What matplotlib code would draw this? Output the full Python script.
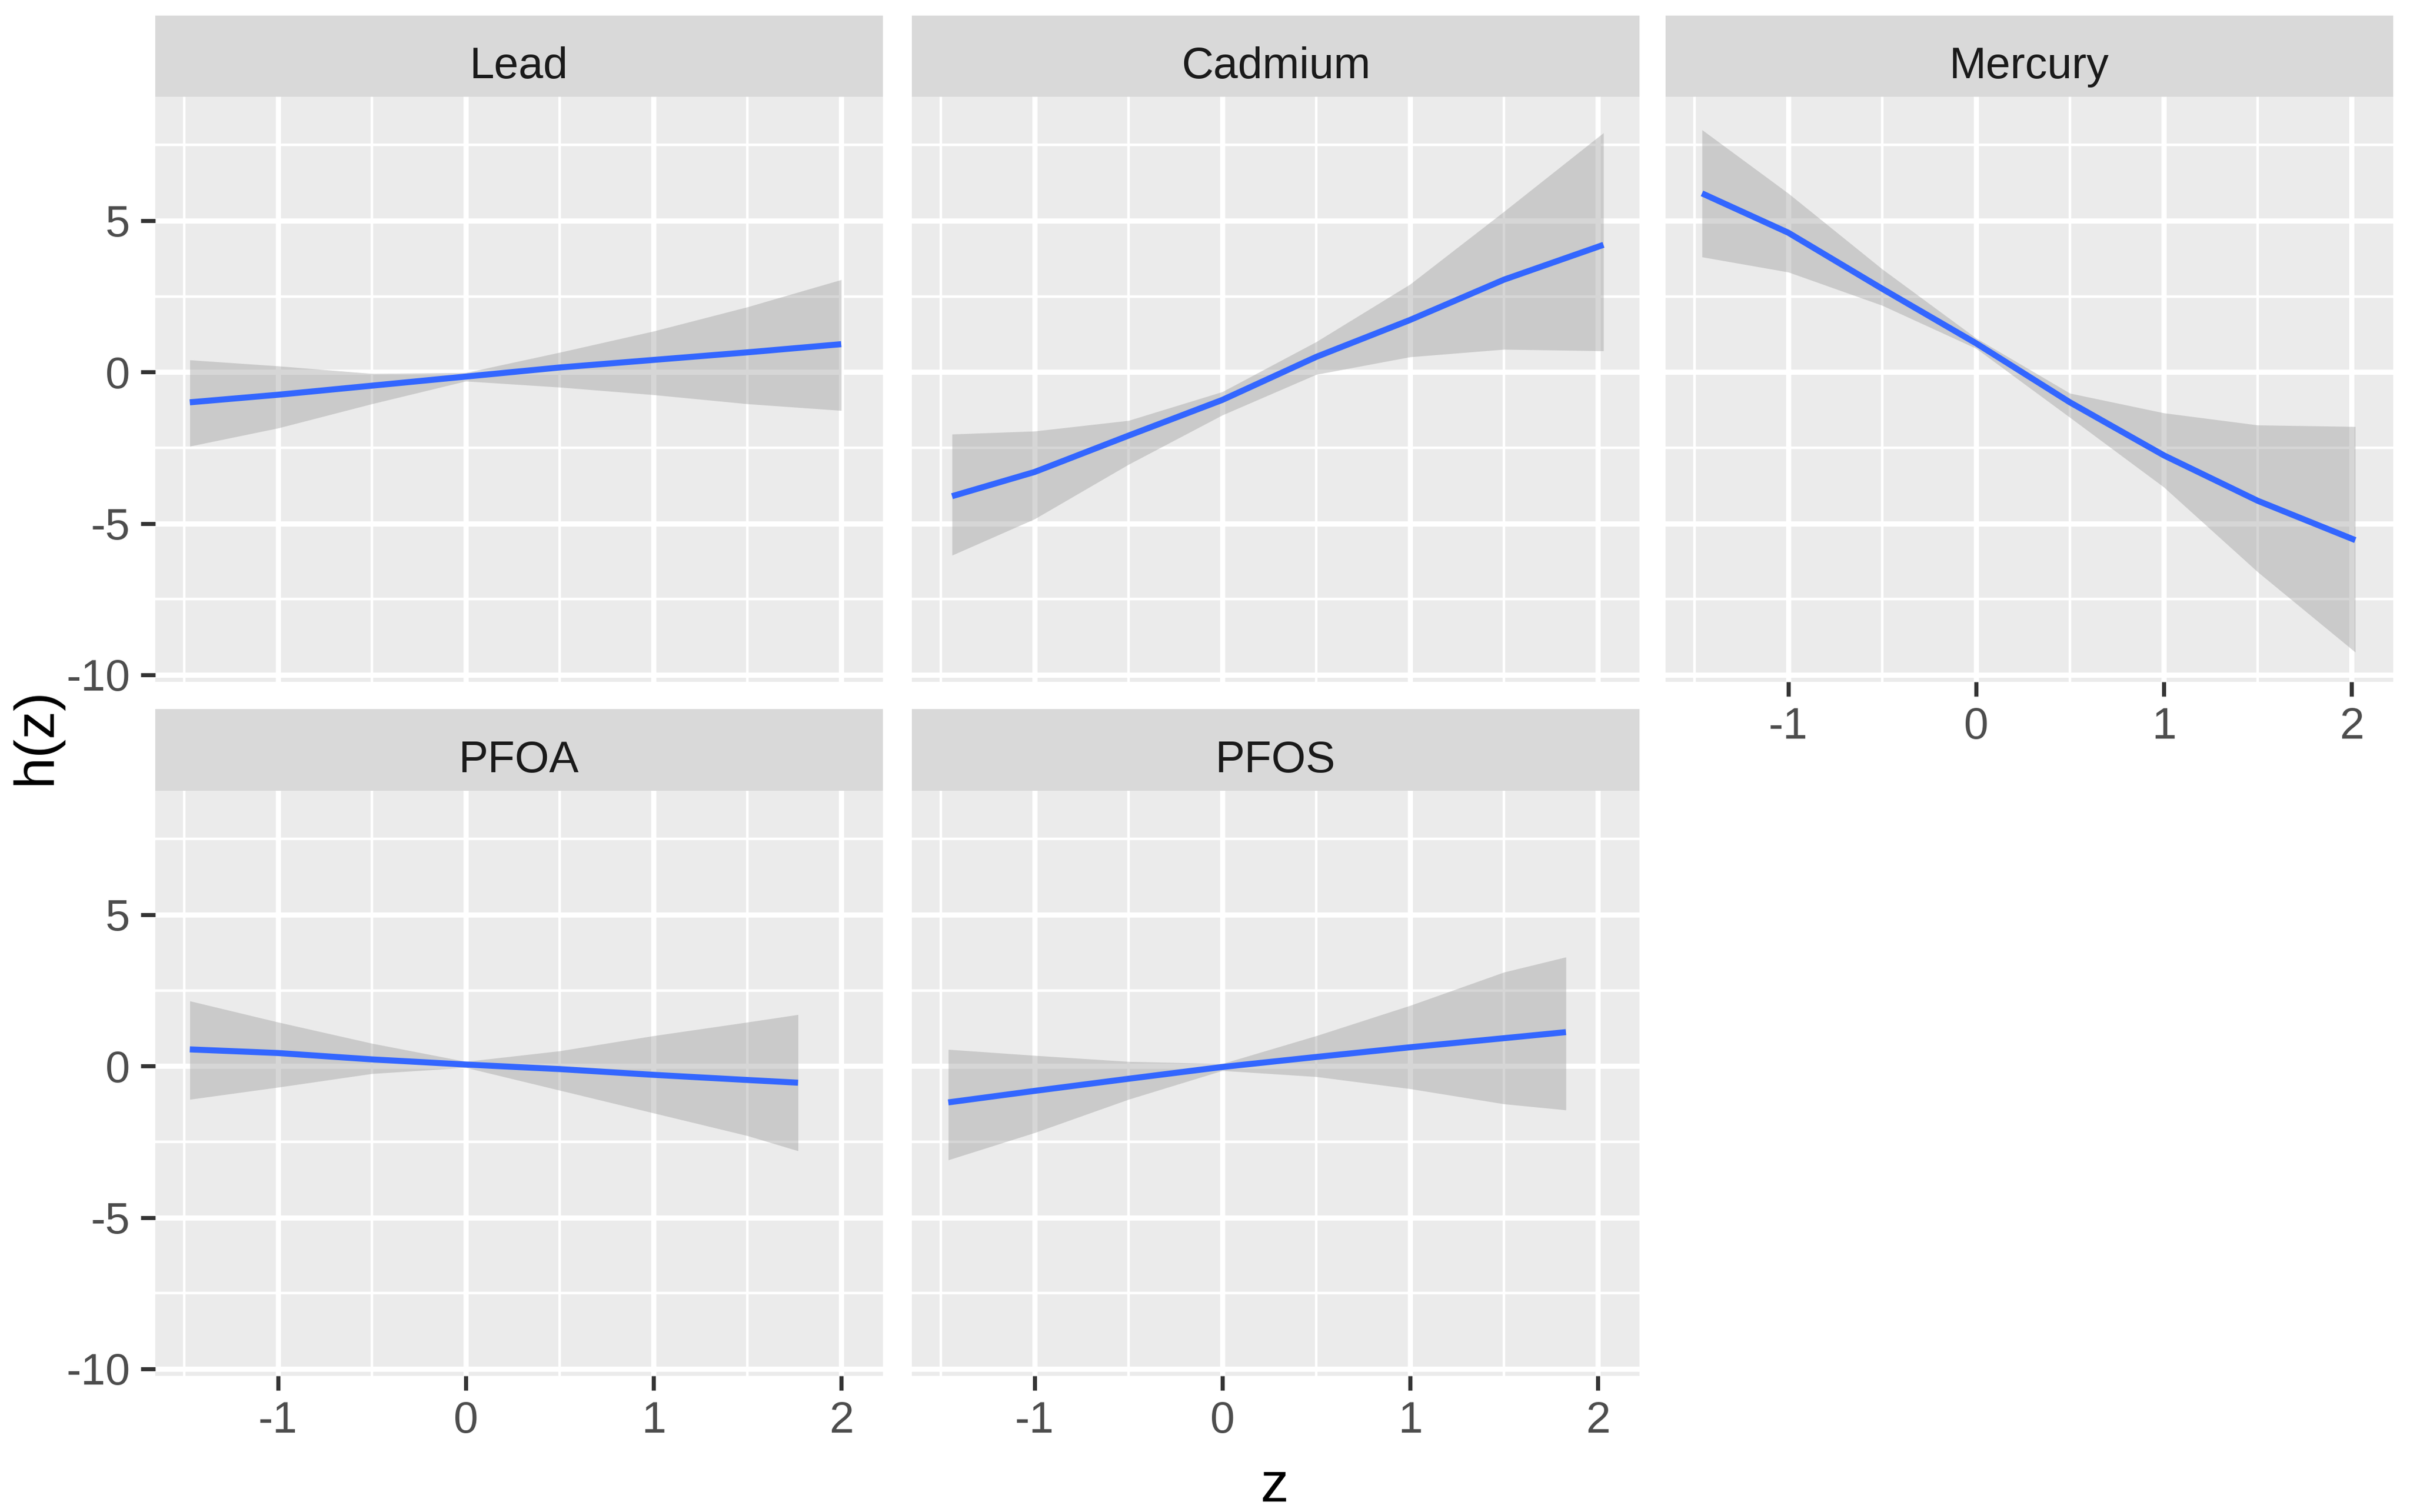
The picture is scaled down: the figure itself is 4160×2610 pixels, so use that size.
import matplotlib
matplotlib.use('Agg')
import matplotlib.pyplot as plt

plt.rcParams['font.family'] = ['Liberation Sans', 'DejaVu Sans']

# ---------------- data ----------------
panels = ['Lead', 'Cadmium', 'Mercury', 'PFOA', 'PFOS']

lead_z   = [-1.47, -1.0, -0.5, 0.0, 0.5, 1.0, 1.5, 2.0]
lead_est = [-1.0, -0.75, -0.45, -0.15, 0.15, 0.4, 0.65, 0.92]
lead_lo  = [-2.45, -1.85, -1.05, -0.3, -0.5, -0.75, -1.05, -1.27]
lead_hi  = [0.4, 0.2, -0.05, -0.02, 0.65, 1.35, 2.15, 3.05]

cad_z   = [-1.44, -1.0, -0.5, 0.0, 0.5, 1.0, 1.5, 2.03]
cad_est = [-4.1, -3.3, -2.1, -0.92, 0.5, 1.72, 3.05, 4.2]
cad_lo  = [-6.05, -4.85, -3.05, -1.42, -0.08, 0.5, 0.75, 0.7]
cad_hi  = [-2.05, -1.95, -1.6, -0.65, 1.0, 2.9, 5.3, 7.9]

mer_z   = [-1.46, -1.0, -0.5, 0.0, 0.5, 1.0, 1.5, 2.02]
mer_est = [5.9, 4.6, 2.75, 0.95, -1.0, -2.75, -4.25, -5.55]
mer_lo  = [3.8, 3.3, 2.2, 0.78, -1.5, -3.8, -6.6, -9.25]
mer_hi  = [8.0, 5.9, 3.4, 1.12, -0.7, -1.35, -1.75, -1.8]

pfoa_z   = [-1.47, -1.0, -0.5, 0.0, 0.5, 1.0, 1.5, 1.77]
pfoa_est = [0.55, 0.43, 0.22, 0.05, -0.1, -0.29, -0.46, -0.55]
pfoa_lo  = [-1.1, -0.7, -0.25, -0.05, -0.8, -1.55, -2.3, -2.8]
pfoa_hi  = [2.15, 1.45, 0.75, 0.15, 0.5, 1.0, 1.45, 1.7]

pfos_z   = [-1.46, -1.0, -0.5, 0.0, 0.5, 1.0, 1.5, 1.83]
pfos_est = [-1.2, -0.82, -0.42, -0.03, 0.3, 0.62, 0.92, 1.12]
pfos_lo  = [-3.1, -2.2, -1.1, -0.15, -0.35, -0.75, -1.25, -1.45]
pfos_hi  = [0.55, 0.35, 0.15, 0.08, 1.0, 2.0, 3.1, 3.6]

series = {
    'Lead': (lead_z, lead_est, lead_lo, lead_hi),
    'Cadmium': (cad_z, cad_est, cad_lo, cad_hi),
    'Mercury': (mer_z, mer_est, mer_lo, mer_hi),
    'PFOA': (pfoa_z, pfoa_est, pfoa_lo, pfoa_hi),
    'PFOS': (pfos_z, pfos_est, pfos_lo, pfos_hi),
}

x_ticks = [-1, 0, 1, 2]
x_minor = [-1.5, -0.5, 0.5, 1.5]
y_ticks = [-10, -5, 0, 5]
y_minor = [-7.5, -2.5, 2.5, 7.5]
x_label = 'z'
y_label = 'h(z)'

# ---------------- layout ----------------
W, H = 4160, 2610
fig = plt.figure(figsize=(W / 100, H / 100), dpi=100)
fig.patch.set_facecolor('white')

col_left = [268, 1574, 2875]
pw = 1256
rows = [(27, 167, 1177), (1224, 1365, 2375)]  # strip top, panel top, panel bottom


def add_ax(x0, y0, x1, y1):
    return fig.add_axes([x0 / W, 1 - y1 / H, (x1 - x0) / W, (y1 - y0) / H])


XLIM = (-1.654, 2.222)
YLIM = (-10.23, 9.09)
FS = 55

for i, name in enumerate(panels):
    r, c = divmod(i, 3)
    st, pt, pb = rows[r]
    x0 = col_left[c]

    # strip
    sax = add_ax(x0, st, x0 + pw, pt)
    sax.set_facecolor('#D9D9D9')
    sax.set_xticks([])
    sax.set_yticks([])
    for s in sax.spines.values():
        s.set_visible(False)
    sax.text(0.5, 0.23, name, ha='center', va='baseline', fontsize=FS,
             color='#1A1A1A', transform=sax.transAxes)

    # panel
    ax = add_ax(x0, pt, x0 + pw, pb)
    ax.set_facecolor('#EBEBEB')
    for s in ax.spines.values():
        s.set_visible(False)
    ax.set_xlim(*XLIM)
    ax.set_ylim(*YLIM)
    ax.set_xticks(x_ticks)
    ax.set_xticks(x_minor, minor=True)
    ax.set_yticks(y_ticks)
    ax.set_yticks(y_minor, minor=True)
    ax.set_xticklabels([str(t) for t in x_ticks])
    ax.set_yticklabels([str(t) for t in y_ticks])
    ax.grid(which='major', color='white', lw=6.5)
    ax.grid(which='minor', color='white', lw=3.2)
    ax.set_axisbelow(True)

    z, est, lo, hi = series[name]
    ax.fill_between(z, lo, hi, color='#999999', alpha=0.4, lw=0, zorder=2)
    ax.plot(z, est, color='#3366FF', lw=7.5, solid_capstyle='butt',
            solid_joinstyle='round', zorder=3)

    ax.tick_params(which='major', length=18, width=5, color='#333333',
                   labelsize=FS, labelcolor='#4D4D4D', pad=13)
    ax.tick_params(which='minor', length=0)

    show_x = (name in ('Mercury', 'PFOA', 'PFOS'))
    show_y = (c == 0)
    if not show_x:
        ax.tick_params(axis='x', which='both', length=0, labelbottom=False)
    if not show_y:
        ax.tick_params(axis='y', which='both', length=0, labelleft=False)

fig.text(62 / W, 1 - 1271 / H, y_label, rotation=90, fontsize=70,
         ha='center', va='center', color='black')
fig.text(2200 / W, 1 - 2592 / H, x_label, fontsize=70,
         ha='center', va='baseline', color='black')

fig.savefig('out.png', dpi=100, facecolor='white')
